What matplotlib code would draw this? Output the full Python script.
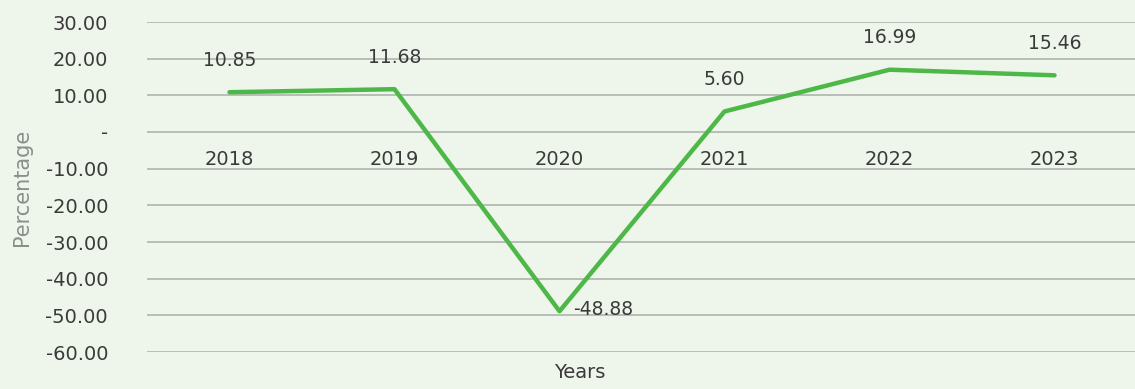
import matplotlib.pyplot as plt
from matplotlib.ticker import FuncFormatter

years = ["2018", "2019", "2020", "2021", "2022", "2023"]
growth = [10.85, 11.68, -48.88, 5.60, 16.99, 15.46]
yticks = [30, 20, 10, 0, -10, -20, -30, -40, -50, -60]

bg = "#eef5eb"
txt = "#3a3a3a"

plt.rcParams['font.family'] = ['DejaVu Sans']

fig = plt.figure(figsize=(11.35, 3.89), dpi=100, facecolor=bg)
ax = fig.add_axes([147 / 1135, 37 / 389, 990 / 1135, 330 / 389])
ax.set_facecolor(bg)

x = list(range(len(years)))
ax.plot(x, growth, color="#4db848", linewidth=3.2, solid_capstyle="round", zorder=3)

# value labels, the dip gets its label on the right
for i, v in enumerate(growth):
    if v < 0:
        ax.annotate(f"{v:.2f}", (i, v), xytext=(10, 1), textcoords="offset points",
                    ha="left", va="center", fontsize=13.5, color=txt)
    else:
        ax.annotate(f"{v:.2f}", (i, v), xytext=(0, 23), textcoords="offset points",
                    ha="center", va="center", fontsize=13.5, color=txt)

ax.set_xlim(-0.5, 5.5)
ax.set_ylim(-60, 30)
ax.set_yticks(yticks)
ax.yaxis.set_major_formatter(FuncFormatter(lambda v, p: "-" if v == 0 else f"{v:.2f}"))
ax.set_xticks([])

# year labels sit just under the zero line
for i, yr in enumerate(years):
    ax.text(i, -7.6, yr, ha="center", va="center", fontsize=14, color=txt)

ax.grid(axis="y", color="#b4b9b4", linewidth=1.3)
ax.set_axisbelow(True)
for s in ax.spines.values():
    s.set_visible(False)
ax.tick_params(axis="y", length=0, pad=28, labelsize=14, labelcolor=txt)

ax.set_ylabel("Percentage", fontsize=15, color="#8a8f8a", va="center")
ax.yaxis.set_label_coords(-125 / 990, 0.5)
ax.set_xlabel("Years", fontsize=14, color=txt, va="center")
ax.xaxis.set_label_coords((580 - 147) / 990, -20 / 330)

fig.savefig("out.png", dpi=100, facecolor=bg)
